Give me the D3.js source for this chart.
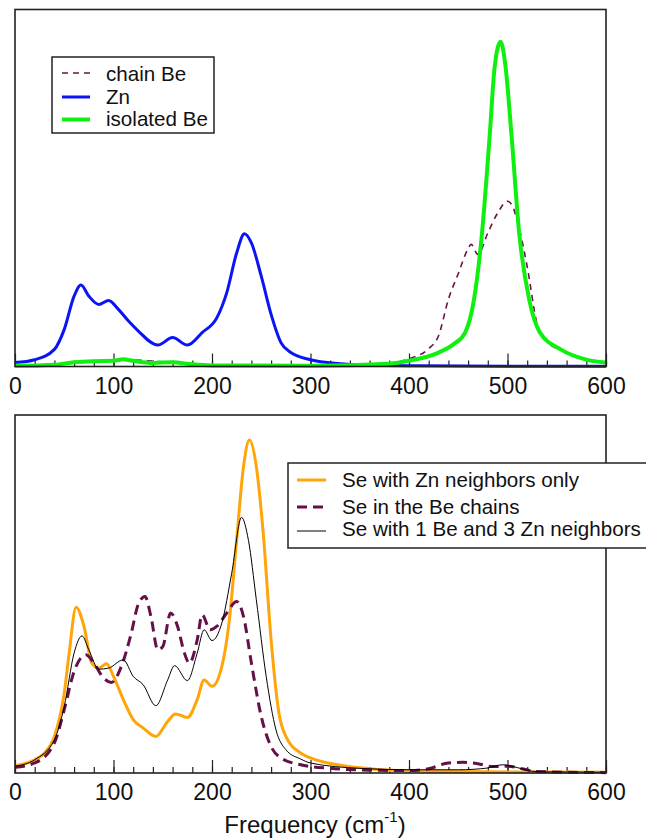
<!DOCTYPE html>
<html>
<head>
<meta charset="utf-8">
<script src="https://cdn.jsdelivr.net/npm/d3@7"></script>
<style>
  body { margin: 0; background: #fff; }
  svg { display: block; font-family: "Liberation Sans", Arial, sans-serif; }
</style>
</head>
<body>
<script>
// frequencies (cm-1) and intensities (arbitrary units, % of panel height)

// top panel
const znFreq = [0, 20, 40, 50, 60, 67, 75, 85, 95, 105, 115, 125, 145, 160, 175, 190, 205, 215, 225, 233, 240, 250, 260, 270, 280, 300, 330, 360, 400, 500, 600];
const znVal  = [1.1, 1.9, 4.8, 10.4, 19.7, 22.8, 19.7, 17.4, 18.5, 16, 12.8, 10, 6, 8.1, 6, 9.5, 13.7, 20.7, 31.8, 37.2, 34.6, 25.3, 14.6, 6.7, 3.9, 1.9, 0.8, 0.4, 0.2, 0.1, 0.1];

const isoFreq = [0, 40, 60, 80, 100, 110, 120, 140, 160, 180, 200, 300, 380, 400, 430, 445, 457, 466, 474, 482, 487, 493, 498, 504, 512, 522, 533, 554, 579, 600];
const isoVal  = [0.2, 0.5, 1.2, 1.5, 1.6, 2.0, 1.6, 1.0, 1.2, 0.6, 0.3, 0.2, 0.8, 1.6, 3.9, 6.2, 9.5, 18.8, 37, 65, 84, 91, 84, 65, 37, 18.8, 9.5, 4.8, 2, 1.1];

const chainFreq = [0, 40, 60, 80, 100, 120, 140, 160, 180, 200, 300, 380, 400, 420, 430, 440, 450, 460, 463, 470, 480, 490, 500, 505, 510, 520, 530, 540, 554, 579, 600];
const chainVal  = [0.2, 0.4, 1.0, 1.3, 1.5, 1.8, 1.5, 1.1, 0.6, 0.3, 0.2, 0.8, 2.2, 5, 8.6, 18.8, 26, 33, 34.2, 31.4, 37.4, 43, 46.3, 45, 40.7, 28, 12, 7, 4.6, 1.9, 1.0];

// bottom panel
const znOnlyFreq = [0, 20, 30, 40, 50, 55, 62, 70, 78, 85, 93, 100, 110, 120, 130, 143, 155, 163, 175, 185, 192, 200, 210, 218, 225, 232, 238, 245, 252, 260, 268, 275, 290, 300, 330, 360, 400, 450, 500, 600];
const znOnlyVal  = [2.0, 3.7, 5.6, 10.2, 22.3, 33.5, 46.3, 41, 30.7, 29.3, 30.5, 27, 20.5, 14.9, 12.6, 10.2, 14.4, 16.5, 15.5, 20.5, 26, 24.2, 29.8, 43.7, 65, 85.6, 93, 85.6, 67, 37.2, 16.7, 10.2, 5.6, 4.2, 2.2, 1.2, 0.6, 0.4, 0.3, 0.2];

const beChainFreq = [0, 20, 40, 50, 60, 72, 80, 90, 98, 108, 118, 125, 132, 138, 145, 150, 158, 165, 172, 177, 185, 190, 198, 205, 215, 225, 232, 240, 250, 260, 270, 290, 320, 360, 400, 420, 440, 455, 470, 485, 500, 515, 530, 600];
const beChainVal  = [1.6, 2.8, 8.4, 17.7, 28.4, 33, 30.7, 26.5, 25.3, 29.8, 39, 47, 49.3, 43.7, 34.4, 35.3, 44.7, 41, 33.5, 30.7, 37.2, 44.2, 40, 41, 44.7, 47.9, 43.7, 30.7, 15.8, 7.4, 4.2, 2.3, 1.3, 0.8, 0.7, 1.2, 2.8, 3.0, 2.6, 1.8, 1.9, 1.2, 0.4, 0.1];

const mixFreq = [0, 20, 40, 50, 60, 68, 75, 85, 95, 110, 120, 130, 143, 155, 162, 175, 185, 192, 200, 210, 220, 230, 237, 245, 255, 265, 275, 290, 300, 350, 400, 450, 480, 495, 510, 525, 540, 600];
const mixVal  = [1.9, 3.7, 9.3, 18.6, 33.5, 38.3, 34.4, 29, 29.3, 31.6, 27, 24.7, 18.8, 26, 30, 25.8, 33.5, 40, 37, 41.9, 55.8, 71.4, 65, 48.4, 27, 12, 6.5, 3.9, 2.8, 1.3, 0.9, 0.9, 1.4, 2.3, 1.5, 0.5, 0.3, 0.2];

const majorTicks = [0, 100, 200, 300, 400, 500, 600];
const minorTicks = d3.range(0, 601, 20);

const W = 646, H = 840;
const svg = d3.select("body").append("svg").attr("width", W).attr("height", H);

const x = d3.scaleLinear().domain([0, 600]).range([15, 606]);

function zip(f, v) { return f.map(function (d, i) { return [d, v[i]]; }); }

function panel(top, bottom) {
  const y = d3.scaleLinear().domain([0, 100]).range([bottom, top]);
  const g = svg.append("g");

  g.append("g")
    .attr("transform", "translate(0," + bottom + ")")
    .call(d3.axisBottom(x).tickValues(minorTicks).tickSize(-6).tickFormat(""))
    .call(function (a) { a.select(".domain").remove(); })
    .selectAll("line").attr("stroke", "#222").attr("stroke-width", 1.2);

  const ax = g.append("g")
    .attr("transform", "translate(0," + bottom + ")")
    .call(d3.axisBottom(x).tickValues(majorTicks).tickSize(-13).tickPadding(11).tickFormat(d3.format("d")));
  ax.select(".domain").remove();
  ax.selectAll("line").attr("stroke", "#222").attr("stroke-width", 1.2);
  ax.selectAll("text").attr("font-size", 23).attr("fill", "#111")
    .attr("font-family", "'Liberation Sans', Arial, sans-serif");

  return { g: g, y: y, top: top, bottom: bottom };
}

function frame(p) {
  p.g.append("rect")
    .attr("x", x(0)).attr("y", p.top)
    .attr("width", x(600) - x(0)).attr("height", p.bottom - p.top)
    .attr("fill", "none").attr("stroke", "#222").attr("stroke-width", 1.6);
}

function curve(p, data, color, width, dash) {
  const line = d3.line()
    .x(function (d) { return x(d[0]); })
    .y(function (d) { return p.y(d[1]); })
    .curve(d3.curveMonotoneX);
  p.g.append("path")
    .datum(data)
    .attr("d", line)
    .attr("fill", "none")
    .attr("stroke", color)
    .attr("stroke-width", width)
    .attr("stroke-dasharray", dash || null)
    .attr("stroke-linejoin", "round");
}

function legend(box, items, lx0, lx1, tx) {
  svg.append("rect")
    .attr("x", box[0]).attr("y", box[1]).attr("width", box[2]).attr("height", box[3])
    .attr("fill", "#fff").attr("stroke", "#222").attr("stroke-width", 1.5);
  items.forEach(function (it) {
    svg.append("line")
      .attr("x1", lx0).attr("x2", lx1).attr("y1", it.ly).attr("y2", it.ly)
      .attr("stroke", it.color).attr("stroke-width", it.width)
      .attr("stroke-dasharray", it.dash || null);
    svg.append("text")
      .attr("x", tx).attr("y", it.ty)
      .attr("font-size", 20.6).attr("fill", "#111")
      .text(it.label);
  });
}

// top panel
const p1 = panel(9.5, 366.5);
curve(p1, zip(chainFreq, chainVal), "#6a1446", 1.6, "6,5");
curve(p1, zip(znFreq, znVal), "#0a14f5", 3);
curve(p1, zip(isoFreq, isoVal), "#10f010", 4);
frame(p1);

legend([52, 57, 162, 76], [
  { label: "chain Be", color: "#6a1446", width: 1.6, dash: "6,5", ly: 73, ty: 80.5 },
  { label: "Zn", color: "#0a14f5", width: 3, ly: 97, ty: 103.5 },
  { label: "isolated Be", color: "#10f010", width: 4, ly: 119.5, ty: 126 }
], 62, 90, 106);

// bottom panel
const p2 = panel(415, 773);
curve(p2, zip(znOnlyFreq, znOnlyVal), "#ffa50a", 3);
curve(p2, zip(beChainFreq, beChainVal), "#66104a", 3, "10,6");
curve(p2, zip(mixFreq, mixVal), "#000", 1);
frame(p2);

legend([288, 463, 362, 85], [
  { label: "Se with Zn neighbors only", color: "#ffa50a", width: 3, ly: 480, ty: 487 },
  { label: "Se in the Be chains", color: "#66104a", width: 3, dash: "10,6", ly: 507, ty: 513.5 },
  { label: "Se with 1 Be and 3 Zn neighbors", color: "#000", width: 1, ly: 531, ty: 536 }
], 297, 326, 342);

// axis title
const title = svg.append("text")
  .attr("x", 315).attr("y", 833)
  .attr("text-anchor", "middle")
  .attr("font-size", 24).attr("fill", "#111");
title.append("tspan").text("Frequency (cm");
title.append("tspan").attr("font-size", 15).attr("dy", -11).text("-1");
title.append("tspan").attr("dy", 11).text(")");
</script>
</body>
</html>
